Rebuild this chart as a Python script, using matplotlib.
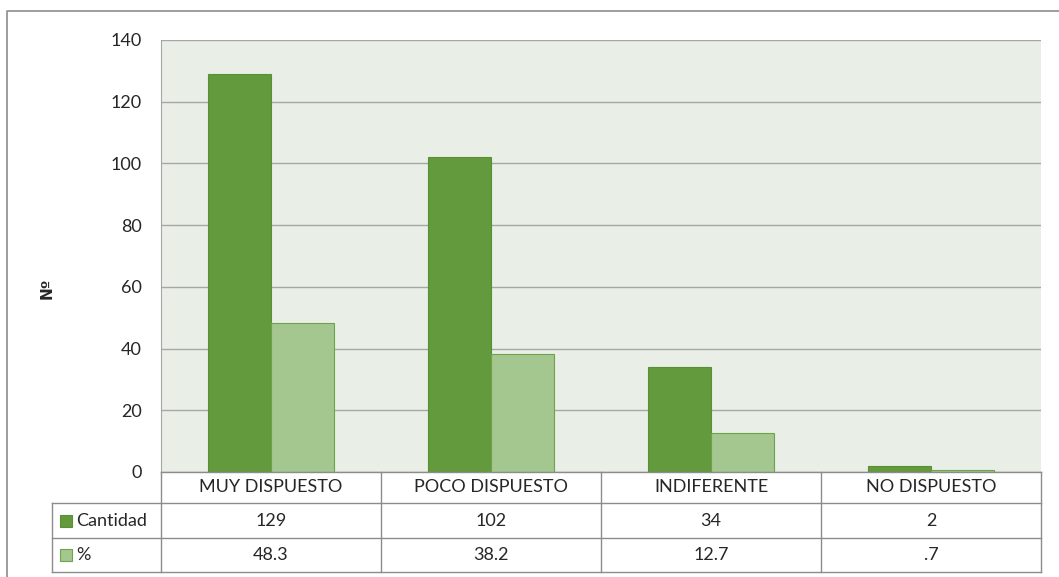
import numpy as np
import matplotlib
matplotlib.use("Agg")
import matplotlib.pyplot as plt
from matplotlib.patches import Rectangle

# datos
categorias = ["MUY DISPUESTO", "POCO DISPUESTO", "INDIFERENTE", "NO DISPUESTO"]
cantidad = [129, 102, 34, 2]
porcentaje = [48.3, 38.2, 12.7, 0.7]
porcentaje_txt = ["48.3", "38.2", "12.7", ".7"]
series = ["Cantidad", "%"]
yticks = [0, 20, 40, 60, 80, 100, 120, 140]

c_dark = "#629a3d"
c_light = "#a4c78f"
c_grid = "#a6a6a6"
c_text = "#262626"

plt.rcParams["font.family"] = ["Lato", "DejaVu Sans"]

W, H = 1059, 577
fig = plt.figure(figsize=(W / 100, H / 100), dpi=100)

# area del grafico (pixeles)
left, right, top, bottom = 161, 1041, 40, 472
ax = fig.add_axes([left / W, 1 - bottom / H, (right - left) / W, (bottom - top) / H])
ax.set_facecolor("#e9efe7")

x = np.arange(len(categorias))
w = 0.286
ax.bar(x - w / 2, cantidad, w, color=c_dark, edgecolor="#5a9034", linewidth=0.8, zorder=3)
ax.bar(x + w / 2, porcentaje, w, color=c_light, edgecolor="#6fa24c", linewidth=0.8, zorder=3)

ax.set_xlim(-0.5, len(categorias) - 0.5)
ax.set_ylim(0, 140)
ax.set_yticks(yticks)
ax.set_xticks([])
ax.tick_params(axis="y", length=0, pad=14, labelsize=13, labelcolor=c_text)
ax.grid(axis="y", color=c_grid, linewidth=1, zorder=1)
for s in ["right", "bottom", "top"]:
    ax.spines[s].set_visible(False)
ax.spines["left"].set_color(c_grid)
ax.set_ylabel("Nº", fontsize=11, fontweight="bold", color=c_text, labelpad=0,
              family=["DejaVu Sans"])
ax.yaxis.set_label_coords(55 / W, 0.5, transform=fig.transFigure)

# tabla de datos (coordenadas en pixeles)
ov = fig.add_axes([0, 0, 1, 1])
ov.set_xlim(0, W)
ov.set_ylim(H, 0)
ov.axis("off")
ov.patch.set_alpha(0)

# marco exterior
ov.plot([7, 7, W], [H, 11, 11], color="#8c8c8c", lw=1.2)

rows = [472, 503, 538, 572]
col_w = (right - left) / len(categorias)
cols = [left + i * col_w for i in range(len(categorias) + 1)]
tcol = "#8c8c8c"
# lineas horizontales
ov.plot([left, right], [rows[0], rows[0]], color=tcol, lw=1)
for yy in rows[1:]:
    ov.plot([52, right], [yy, yy], color=tcol, lw=1)
# lineas verticales
ov.plot([52, 52], [rows[1], rows[3]], color=tcol, lw=1)
for xx in cols:
    ov.plot([xx, xx], [rows[0], rows[3]], color=tcol, lw=1)

fs = 13
for i, cat in enumerate(categorias):
    cx = cols[i] + col_w / 2
    ov.text(cx, (rows[0] + rows[1]) / 2, cat, ha="center", va="center", fontsize=fs, color=c_text)
    ov.text(cx, (rows[1] + rows[2]) / 2, str(cantidad[i]), ha="center", va="center", fontsize=fs, color=c_text)
    ov.text(cx, (rows[2] + rows[3]) / 2, porcentaje_txt[i], ha="center", va="center", fontsize=fs, color=c_text)

for j, (nombre, col, ec) in enumerate(zip(series, [c_dark, c_light], ["#5a9034", "#6fa24c"])):
    yc = (rows[j + 1] + rows[j + 2]) / 2
    ov.add_patch(Rectangle((60, yc - 6), 12, 12, facecolor=col, edgecolor=ec, lw=0.8))
    ov.text(76, yc, nombre, ha="left", va="center", fontsize=fs, color=c_text)

fig.savefig("out.png", dpi=100)
